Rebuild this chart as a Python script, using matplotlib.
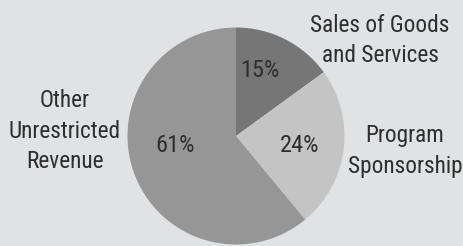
import matplotlib
matplotlib.use("Agg")
import matplotlib.pyplot as plt

# -------------------
# DATA
# -------------------
categories = [["Sales of Goods", "and Services"],
              ["Program", "Sponsorship"],
              ["Other", "Unrestricted", "Revenue"]]
shares = [15, 24, 61]
pct_labels = ["15%", "24%", "61%"]

# -------------------
# STYLE
# -------------------
plt.rcParams['font.family'] = ['Roboto Condensed', 'DejaVu Sans']
BG = '#e1e2e3'
SLICE_COLORS = ['#767676', '#c4c4c4', '#969696']
TEXT_COLOR = '#2e2e2e'
TARGET_W = 139  # px width of "Sales of Goods" in the reference

W, H = 463, 246
fig = plt.figure(figsize=(W / 100, H / 100), dpi=100, facecolor=BG)
ax = fig.add_axes([0, 0, 1, 1])
ax.set_facecolor(BG)

# fit font size to the reference label width
probe = fig.text(0, 0, categories[0][0], fontsize=19)
fig.canvas.draw()
FS = 19 * TARGET_W / probe.get_window_extent().width
probe.remove()

# pie in pixel-like data units (y up)
center = (236, H - 136)
radius = 108.5
ax.pie(shares, colors=SLICE_COLORS, startangle=90, counterclock=False,
       center=center, radius=radius, wedgeprops=dict(linewidth=0))

# percentage labels (x centre, baseline from top)
pct_pos = [(260, 77), (300, 152), (175, 152)]
for (x, y), t in zip(pct_pos, pct_labels):
    ax.text(x, H - y, t, ha='center', va='baseline', fontsize=FS * 1.05,
            color=TEXT_COLOR)

# category labels: centre x, first baseline from top, line step
cat_pos = [(380, 32), (405, 142), (65, 107)]
LINE_STEP = 30.5
for (x, y0), lines in zip(cat_pos, categories):
    for i, line in enumerate(lines):
        ax.text(x, H - (y0 + i * LINE_STEP), line, ha='center', va='baseline',
                fontsize=FS, color=TEXT_COLOR)

ax.set_xlim(0, W)
ax.set_ylim(0, H)
ax.set_aspect('equal')
ax.axis('off')

plt.savefig("out.png", dpi=100, facecolor=BG)
